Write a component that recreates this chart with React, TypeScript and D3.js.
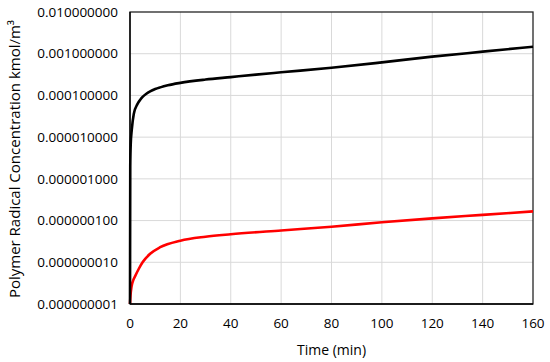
import React, { useEffect, useRef } from "react";
import * as d3 from "d3";

// time in minutes
const blackTime = [0, 0.1, 0.3, 0.7, 1.5, 3, 4, 5, 6.5, 8, 10, 12, 15, 20, 30, 40, 50, 60, 80, 100, 120, 140, 160];
const blackConc = [1e-9, 2e-6, 7e-6, 1.5e-5, 3.6e-5, 6.3e-5, 7.8e-5, 9.2e-5, 1.1e-4, 1.25e-4, 1.42e-4, 1.56e-4, 1.75e-4, 2.0e-4, 2.4e-4, 2.75e-4, 3.15e-4, 3.58e-4, 4.6e-4, 6.2e-4, 8.5e-4, 1.12e-3, 1.47e-3];

const redTime = [0, 0.2, 0.6, 1.2, 2, 3.5, 5, 8, 12, 20, 30, 40, 60, 80, 100, 120, 140, 160];
const redConc = [1e-9, 1.6e-9, 2.6e-9, 3.6e-9, 4.6e-9, 7e-9, 1.0e-8, 1.6e-8, 2.3e-8, 3.3e-8, 4.1e-8, 4.7e-8, 5.8e-8, 7.1e-8, 9.1e-8, 1.13e-7, 1.37e-7, 1.66e-7];

const xTicks = [0, 20, 40, 60, 80, 100, 120, 140, 160];
const yTicks = [1e-9, 1e-8, 1e-7, 1e-6, 1e-5, 1e-4, 1e-3, 1e-2];

const App = () => {
  const ref = useRef<SVGSVGElement>(null);

  useEffect(() => {
    const svg = d3.select(ref.current);
    svg.selectAll("*").remove();

    const left = 130, right = 533, top = 12, bottom = 304;
    const font = "'Open Sans', sans-serif";

    const x = d3.scaleLinear().domain([0, 160]).range([left, right]);
    const y = d3.scaleLog().domain([1e-9, 1e-2]).range([bottom, top]);

    // gridlines
    svg.append("g")
      .selectAll("line.v")
      .data(xTicks.slice(1, -1))
      .join("line")
      .attr("x1", (d) => x(d)).attr("x2", (d) => x(d))
      .attr("y1", top).attr("y2", bottom)
      .attr("stroke", "#d9d9d9").attr("stroke-width", 1);
    svg.append("g")
      .selectAll("line.h")
      .data(yTicks.slice(1, -1))
      .join("line")
      .attr("x1", left).attr("x2", right)
      .attr("y1", (d) => y(d)).attr("y2", (d) => y(d))
      .attr("stroke", "#d9d9d9").attr("stroke-width", 1);

    // frame
    svg.append("rect")
      .attr("x", left).attr("y", top)
      .attr("width", right - left).attr("height", bottom - top)
      .attr("fill", "none").attr("stroke", "#262626").attr("stroke-width", 1.3);

    const line = d3.line<[number, number]>()
      .x((d) => x(d[0]))
      .y((d) => y(d[1]))
      .curve(d3.curveMonotoneX);

    const series = [
      { t: redTime, c: redConc, color: "#ff0000" },
      { t: blackTime, c: blackConc, color: "#000000" },
    ];
    series.forEach((s) => {
      const pts = s.t.map((t, i) => [t, s.c[i]] as [number, number]);
      svg.append("path")
        .attr("d", line(pts))
        .attr("fill", "none")
        .attr("stroke", s.color)
        .attr("stroke-width", 2.6)
        .attr("stroke-linejoin", "round");
    });

    // axes lines on top
    svg.append("line")
      .attr("x1", left).attr("x2", left).attr("y1", top).attr("y2", bottom)
      .attr("stroke", "#000").attr("stroke-width", 1.3);
    svg.append("line")
      .attr("x1", left).attr("x2", right).attr("y1", bottom).attr("y2", bottom)
      .attr("stroke", "#000").attr("stroke-width", 1.3);

    // tick labels
    svg.append("g")
      .selectAll("text")
      .data(yTicks)
      .join("text")
      .attr("x", left - 12)
      .attr("y", (d) => y(d))
      .attr("dy", "0.35em")
      .attr("text-anchor", "end")
      .attr("font-family", font)
      .attr("font-size", 13.5)
      .attr("fill", "#000")
      .text((d) => d.toFixed(9));

    svg.append("g")
      .selectAll("text")
      .data(xTicks)
      .join("text")
      .attr("x", (d) => x(d))
      .attr("y", bottom + 24)
      .attr("text-anchor", "middle")
      .attr("font-family", font)
      .attr("font-size", 13.5)
      .attr("fill", "#000")
      .text((d) => String(d));

    // axis titles
    svg.append("text")
      .attr("x", (left + right) / 2)
      .attr("y", 355)
      .attr("text-anchor", "middle")
      .attr("font-family", font)
      .attr("font-size", 14)
      .attr("fill", "#000")
      .text("Time (min)");

    svg.append("text")
      .attr("transform", `translate(20, ${(top + bottom) / 2 + 1}) rotate(-90)`)
      .attr("text-anchor", "middle")
      .attr("font-family", font)
      .attr("font-size", 15)
      .attr("fill", "#000")
      .text("Polymer Radical Concentration kmol/m³");
  }, []);

  return (
    <svg
      ref={ref}
      width={550}
      height={362}
      style={{ position: "absolute", left: 0, top: 0, background: "#fff" }}
    />
  );
};

export default App;
